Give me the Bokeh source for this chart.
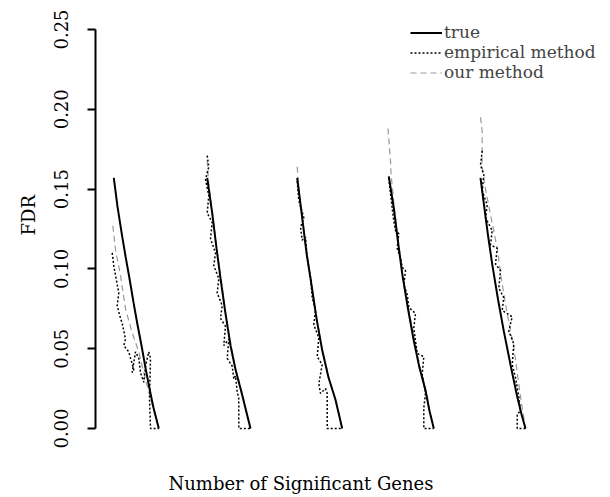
from bokeh.plotting import figure
from bokeh.models import Range1d, FixedTicker, Legend, LegendItem, Title
from bokeh.embed import file_html
from bokeh.resources import INLINE

FONT = "DejaVu Serif"

# ---- axis ticks / texts ----
y_ticks = [0.00, 0.05, 0.10, 0.15, 0.20, 0.25]
y_tick_labels = ["0.00", "0.05", "0.10", "0.15", "0.20", "0.25"]
legend_labels = ["true", "empirical method", "our method"]
x_title = "Number of Significant Genes"
y_title = "FDR"

# ---- group 1 ----
true1_x = [18.3, 22, 26, 30, 34, 38, 42, 46, 50, 54, 58, 63.3]
true1_y = [0.157, 0.139, 0.123, 0.108, 0.094, 0.079, 0.065, 0.052, 0.038, 0.025, 0.013, 0.000]
emp1_x = [16.7, 18.3, 20, 23.3, 21.7, 25, 26.7, 30, 28.3, 33.3, 35, 38.3, 36.7, 40, 43.3, 45, 48.3, 50, 53.3, 55, 54, 55, 63.3]
emp1_y = [0.110, 0.102, 0.096, 0.085, 0.077, 0.069, 0.066, 0.056, 0.052, 0.048, 0.044, 0.037, 0.035, 0.048, 0.044, 0.035, 0.029, 0.039, 0.048, 0.044, 0.019, 0.000, 0.000]
our1_x = [17.3, 20, 25, 30, 36.7, 43.3, 48.3, 55, 63.3]
our1_y = [0.127, 0.112, 0.096, 0.075, 0.060, 0.048, 0.035, 0.019, 0.000]

# ---- group 2 ----
true2_x = [111.7, 116.7, 121, 125, 130, 135, 140, 146.7, 151, 155]
true2_y = [0.157, 0.135, 0.113, 0.094, 0.072, 0.052, 0.037, 0.021, 0.010, 0.000]
emp2_x = [111.7, 113.3, 110, 113.3, 111.7, 116.7, 115, 120, 118.3, 123.3, 121.7, 126.7, 125, 130, 128.3, 133.3, 131.7, 136.7, 138.3, 140, 141.7, 143.3, 143.3, 155]
emp2_y = [0.171, 0.164, 0.156, 0.146, 0.135, 0.129, 0.119, 0.110, 0.102, 0.094, 0.085, 0.077, 0.069, 0.064, 0.052, 0.056, 0.044, 0.039, 0.031, 0.033, 0.023, 0.019, 0.000, 0.000]
our2_x = [111.7, 113, 116.7, 121, 125, 130, 135, 140, 146.7, 151, 155]
our2_y = [0.168, 0.155, 0.136, 0.114, 0.096, 0.073, 0.054, 0.038, 0.022, 0.011, 0.000]

# ---- group 3 ----
true3_x = [201.7, 206.7, 211, 216, 221, 226.7, 233, 240, 246.7]
true3_y = [0.157, 0.132, 0.110, 0.090, 0.069, 0.049, 0.032, 0.018, 0.000]
emp3_x = [201.7, 203.3, 208.3, 205, 206.7, 210, 211.7, 215, 216.7, 220, 218.3, 223.3, 221.7, 226.7, 223.3, 225, 230, 231.7, 231.7, 246.7]
emp3_y = [0.155, 0.143, 0.132, 0.126, 0.118, 0.120, 0.107, 0.095, 0.082, 0.074, 0.065, 0.057, 0.045, 0.040, 0.028, 0.022, 0.025, 0.022, 0.000, 0.000]
our3_x = [201.7, 203, 206.7, 211, 216, 221, 226.7, 233, 240, 246.7]
our3_y = [0.164, 0.152, 0.133, 0.111, 0.091, 0.070, 0.050, 0.033, 0.018, 0.000]

# ---- group 4 ----
true4_x = [293.3, 298.3, 302.5, 306.7, 312.5, 318.3, 324, 330, 334, 338.3]
true4_y = [0.158, 0.138, 0.117, 0.097, 0.075, 0.055, 0.038, 0.024, 0.011, 0.000]
emp4_x = [293.3, 295, 296.7, 298.3, 300, 303.3, 301.7, 305, 306.7, 310, 308.3, 311.7, 313.3, 320, 318.3, 320, 321.7, 328.3, 326.7, 330, 328.3, 328.3, 338.3]
emp4_y = [0.157, 0.147, 0.138, 0.130, 0.124, 0.122, 0.113, 0.107, 0.101, 0.099, 0.090, 0.084, 0.076, 0.072, 0.063, 0.055, 0.047, 0.045, 0.034, 0.022, 0.013, 0.000, 0.000]
our4_x = [292.5, 294, 295, 295.5, 298.5, 302.5, 307, 312.5, 318.5, 324, 330, 334, 338.3]
our4_y = [0.188, 0.176, 0.168, 0.160, 0.140, 0.119, 0.098, 0.077, 0.057, 0.040, 0.025, 0.012, 0.000]

# ---- group 5 ----
true5_x = [385, 388.3, 392.3, 396.7, 402.5, 408.3, 415, 421.7, 426, 430]
true5_y = [0.157, 0.141, 0.122, 0.103, 0.081, 0.061, 0.040, 0.020, 0.009, 0.000]
emp5_x = [386.7, 385, 388.3, 386.7, 391.7, 390, 396.7, 395, 401.7, 400, 405, 403.3, 408.3, 406.7, 416.7, 413.3, 418.3, 416.7, 420, 423.3, 425, 421.7, 421.7, 430]
emp5_y = [0.174, 0.165, 0.159, 0.149, 0.140, 0.132, 0.124, 0.115, 0.113, 0.103, 0.099, 0.088, 0.082, 0.074, 0.070, 0.061, 0.053, 0.040, 0.032, 0.020, 0.011, 0.009, 0.000, 0.000]
our5_x = [385, 386.7, 386.5, 390, 395, 401.7, 406, 411.7, 418.3, 425, 430]
our5_y = [0.195, 0.186, 0.165, 0.150, 0.134, 0.113, 0.093, 0.072, 0.051, 0.020, 0.000]

groups = [
    (true1_x, true1_y, emp1_x, emp1_y, our1_x, our1_y),
    (true2_x, true2_y, emp2_x, emp2_y, our2_x, our2_y),
    (true3_x, true3_y, emp3_x, emp3_y, our3_x, our3_y),
    (true4_x, true4_y, emp4_x, emp4_y, our4_x, our4_y),
    (true5_x, true5_y, emp5_x, emp5_y, our5_x, our5_y),
]

p = figure(width=608, height=497, output_backend="svg", toolbar_location=None,
           x_range=Range1d(0, 513), y_range=Range1d(-0.005, 0.26),
           min_border_left=95, min_border_right=0, min_border_top=13, min_border_bottom=61)
p.outline_line_color = None
p.grid.visible = False
p.background_fill_color = "white"
p.border_fill_color = "white"

# x axis: no line, no ticks; its blank label only reserves space above the title
xa = p.xaxis[0]
xa.ticker = FixedTicker(ticks=[])
xa.axis_line_color = None
xa.major_tick_line_color = None
xa.minor_tick_line_color = None
xa.major_tick_out = 0
xa.major_tick_in = 0
xa.major_label_text_font_size = "0px"
xa.major_label_standoff = 0
xa.axis_label = " "
xa.axis_label_text_font = FONT
xa.axis_label_text_font_size = "18px"
xa.axis_label_standoff = 10

ya = p.yaxis[0]
ya.bounds = (0, 0.25)
ya.ticker = FixedTicker(ticks=y_ticks)
ya.major_label_overrides = {t: l for t, l in zip(y_ticks, y_tick_labels)}
ya.major_label_orientation = "vertical"
ya.major_label_text_font = FONT
ya.major_label_text_font_size = "18px"
ya.major_label_text_color = "black"
ya.major_label_standoff = 19
ya.axis_line_width = 2
ya.axis_line_color = "black"
ya.major_tick_line_width = 2
ya.major_tick_line_color = "black"
ya.major_tick_out = 8
ya.major_tick_in = 0
ya.minor_tick_line_color = None

r_true = r_emp = r_our = None
for tx, ty, ex, ey, ox, oy in groups:
    ro = p.line(ox, oy, line_color="#9a9a9a", line_width=1.2, line_dash="6 4")
    re = p.line(ex, ey, line_color="black", line_width=1.5, line_dash="2 2")
    rt = p.line(tx, ty, line_color="black", line_width=2)
    if r_true is None:
        r_true, r_emp, r_our = rt, re, ro

legend = Legend(items=[LegendItem(label=legend_labels[0], renderers=[r_true]),
                       LegendItem(label=legend_labels[1], renderers=[r_emp]),
                       LegendItem(label=legend_labels[2], renderers=[r_our])],
                location=(315, 354), border_line_color=None, background_fill_alpha=0,
                padding=0, margin=0, glyph_width=32, glyph_height=19, label_height=19,
                label_standoff=2, spacing=0,
                label_text_font=FONT, label_text_font_size="17px")
p.add_layout(legend)

p.add_layout(Title(text=x_title, align="left", offset=73, standoff=4, vertical_align="top",
                   text_font=FONT, text_font_size="18px", text_font_style="normal",
                   text_color="black"), "below")
p.add_layout(Title(text=y_title, align="left", offset=201, standoff=23, vertical_align="middle",
                   text_font=FONT, text_font_size="18px", text_font_style="normal",
                   text_color="black"), "left")

open("out.html", "w").write(file_html(p, INLINE))
